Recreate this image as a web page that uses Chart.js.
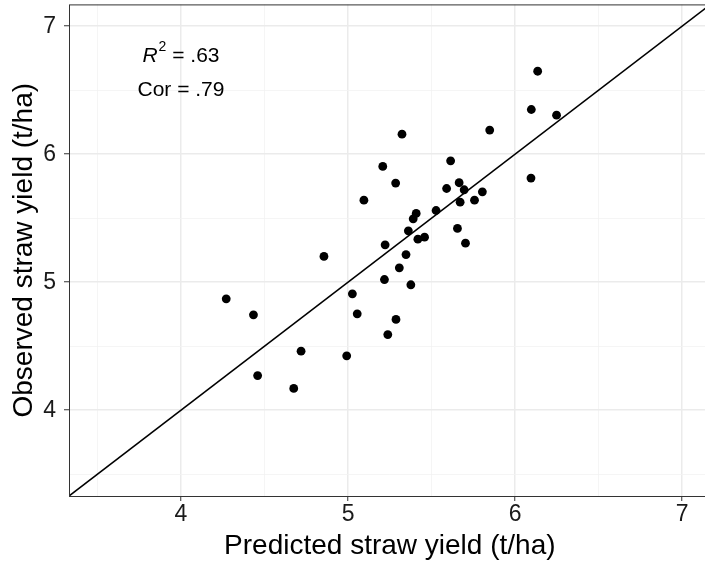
<!DOCTYPE html>
<html>
<head>
<meta charset="utf-8">
<script src="https://cdn.jsdelivr.net/npm/chart.js@4"></script>
<style>
  html, body { margin: 0; padding: 0; background: #fff; overflow: hidden; }
  #wrap { width: 705px; height: 564px; overflow: hidden; }
</style>
</head>
<body>
<div id="wrap"><canvas id="chart" width="715" height="564"></canvas></div>
<script>
// predicted vs observed straw yield (t/ha)
const PRED_X = [
  6.135, 6.097, 6.248, 5.323, 5.848, 5.208, 5.614, 5.285, 6.095, 5.095,
  5.665, 5.590, 5.695, 5.804, 5.671, 5.757, 5.527, 5.408, 5.390, 5.361,
  5.655, 5.703, 5.222, 5.418, 5.458, 5.347, 5.307, 5.218, 5.376, 5.026,
  5.055, 5.287, 5.238, 4.992, 4.271, 4.434, 4.719, 4.459, 4.675, 4.856,
];
const OBS_Y = [
  6.648, 6.349, 6.305, 6.156, 6.188, 5.904, 5.948, 5.774, 5.813, 5.641,
  5.777, 5.732, 5.722, 5.706, 5.625, 5.641, 5.560, 5.537, 5.495, 5.401,
  5.420, 5.305, 5.292, 5.336, 5.352, 5.216, 5.112, 5.021, 4.980, 4.909,
  4.753, 4.709, 4.591, 4.425, 4.870, 4.745, 4.461, 4.271, 4.170, 5.201,
];

// 1:1 reference line ends
const LINE_X = [3.33, 7.17];

const AXIS_MIN = 3.33;
const AXIS_MAX = 7.17;
const MAJOR_TICKS = [4, 5, 6, 7];
const MINOR_TICKS = [3.5, 4.5, 5.5, 6.5];

const ANNOT_X = [4, 4];
const ANNOT_Y = [6.78, 6.5];
const ANNOT_TEXT = ['R2', 'Cor = .79'];

const FONT = '"Liberation Sans", Arial, sans-serif';

const isMajor = (v) => MAJOR_TICKS.some((m) => Math.abs(m - v) < 1e-6);

function buildTicks(scale) {
  scale.ticks = [...MAJOR_TICKS, ...MINOR_TICKS].sort((a, b) => a - b).map((v) => ({ value: v }));
}

function noPad(scale) {
  scale.paddingTop = 0;
  scale.paddingBottom = 0;
  scale.paddingLeft = 0;
  scale.paddingRight = 0;
}

const panelPlugin = {
  id: 'panel',
  afterDraw(chart) {
    const { ctx, chartArea: a } = chart;
    ctx.save();
    ctx.strokeStyle = '#333333';
    ctx.lineWidth = 1;
    ctx.strokeRect(a.left + 0.5, a.top + 0.5, a.right - a.left, a.bottom - a.top);
    ctx.restore();
  },
};

const annotPlugin = {
  id: 'annot',
  afterDatasetsDraw(chart) {
    const { ctx, scales } = chart;
    ctx.save();
    ctx.fillStyle = '#000';
    ctx.textBaseline = 'middle';
    ANNOT_TEXT.forEach((txt, i) => {
      const cx = scales.x.getPixelForValue(ANNOT_X[i]);
      const cy = scales.y.getPixelForValue(ANNOT_Y[i]);
      if (txt === 'R2') {
        // italic R with superscript 2, then " = .63"
        const f1 = `italic 21px ${FONT}`;
        const f2 = `14px ${FONT}`;
        const f3 = `21px ${FONT}`;
        const rest = ' = .63';
        ctx.font = f1; const w1 = ctx.measureText('R').width + 1;
        ctx.font = f2; const w2 = ctx.measureText('2').width;
        ctx.font = f3; const w3 = ctx.measureText(rest).width;
        let x = cx - (w1 + w2 + w3) / 2;
        ctx.textAlign = 'left';
        ctx.font = f1; ctx.fillText('R', x, cy + 2); x += w1;
        ctx.font = f2; ctx.fillText('2', x, cy - 7); x += w2;
        ctx.font = f3; ctx.fillText(rest, x, cy + 2);
      } else {
        ctx.font = `21px ${FONT}`;
        ctx.textAlign = 'center';
        ctx.fillText(txt, cx, cy);
      }
    });
    ctx.restore();
  },
};

const gridOpts = {
  color: (c) => (isMajor(c.tick.value) ? '#ebebeb' : '#f3f3f3'),
  lineWidth: (c) => (isMajor(c.tick.value) ? 1.5 : 0.8),
  tickColor: (c) => (isMajor(c.tick.value) ? '#333333' : 'rgba(0,0,0,0)'),
  tickWidth: 1,
  tickLength: 5,
};

new Chart(document.getElementById('chart'), {
  type: 'scatter',
  data: {
    datasets: [
      {
        type: 'line',
        data: LINE_X.map((v) => ({ x: v, y: v })),
        borderColor: '#000',
        borderWidth: 1.6,
        pointRadius: 0,
        fill: false,
        order: 2,
      },
      {
        data: PRED_X.map((x, i) => ({ x, y: OBS_Y[i] })),
        backgroundColor: '#000',
        borderWidth: 0,
        pointRadius: 4.4,
        order: 1,
      },
    ],
  },
  options: {
    responsive: false,
    animation: false,
    devicePixelRatio: 1,
    layout: { padding: { top: 4, left: 0, right: 0, bottom: 0 } },
    plugins: { legend: { display: false }, tooltip: { enabled: false } },
    scales: {
      x: {
        type: 'linear',
        min: AXIS_MIN,
        max: AXIS_MAX,
        afterBuildTicks: buildTicks,
        afterFit(scale) { scale.height = 68; noPad(scale); },
        grid: gridOpts,
        border: { display: false },
        ticks: {
          padding: 0,
          maxRotation: 0,
          autoSkip: false,
          color: '#1a1a1a',
          font: { family: FONT, size: 23 },
          callback: (v) => (isMajor(v) ? String(v) : ''),
        },
        title: {
          display: true,
          text: 'Predicted straw yield (t/ha)',
          color: '#000',
          font: { family: FONT, size: 28 },
          padding: { top: 0, bottom: 1 },
        },
      },
      y: {
        type: 'linear',
        min: AXIS_MIN,
        max: AXIS_MAX,
        afterBuildTicks: buildTicks,
        afterFit(scale) { scale.width = 69; noPad(scale); },
        grid: gridOpts,
        border: { display: false },
        ticks: {
          padding: 8,
          autoSkip: false,
          color: '#1a1a1a',
          font: { family: FONT, size: 23 },
          callback: (v) => (isMajor(v) ? String(v) : ''),
        },
        title: {
          display: true,
          text: 'Observed straw yield (t/ha)',
          color: '#000',
          font: { family: FONT, size: 28 },
          padding: { top: 7, bottom: 0 },
        },
      },
    },
  },
  plugins: [panelPlugin, annotPlugin],
});
</script>
</body>
</html>
